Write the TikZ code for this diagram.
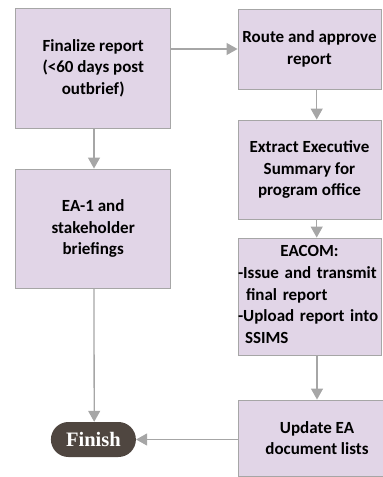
\documentclass[tikz,border=0pt]{standalone}
\usepackage{fontspec}
\setmainfont{Carlito}
\newfontfamily\finishfont{Liberation Serif}
\usetikzlibrary{arrows.meta,shapes.misc}
\definecolor{boxfill}{HTML}{E1D5E7}
\definecolor{boxline}{HTML}{A6A6A6}
\definecolor{arrowgray}{HTML}{A6A6A6}
\definecolor{finishfill}{HTML}{4F4640}
\begin{document}
\begin{tikzpicture}[x=1pt,y=-1pt,
  stepbox/.style={draw=boxline,line width=0.9pt,fill=boxfill,rectangle,inner sep=0pt,
    align=center,font=\fontsize{17}{21.4}\selectfont\bfseries},
  flow/.style={draw=arrowgray,line width=1.3pt,-{Triangle[length=11pt,width=12pt]}},
  endbox/.style={rounded rectangle,fill=finishfill,text=white,inner sep=0pt,
    minimum width=85pt,minimum height=35pt,font=\finishfont\fontsize{20.5}{24}\selectfont\bfseries}
]
\useasboundingbox (0,0) rectangle (383,477);
\node[stepbox,minimum width=155pt,minimum height=120pt] (fin) at (93.2,68.2)
  {Finalize report\\(<60 days post\\outbrief)};
\node[stepbox,minimum width=155pt,minimum height=119pt] (ea1) at (93.2,228.5)
  {EA-1 and\\stakeholder\\briefings};
\node[stepbox,minimum width=143pt,minimum height=80pt] (route) at (309.5,49)
  {Route and approve\\report};
\node[stepbox,minimum width=143pt,minimum height=99pt] (extr) at (309.5,169.5)
  {Extract Executive\\Summary for\\program office};
\node[stepbox,minimum width=143pt,minimum height=117pt] (eacom) at (309.5,296.5) {};
\node[font=\fontsize{17}{21.8}\selectfont\bfseries,align=left,text width=145pt,inner sep=0pt]
  (eacomtext) at (310.5,294.5)
  {\makebox[\linewidth][c]{\hspace*{-2pt}EACOM:}\\-Issue and transmit\\\hspace*{8pt}final report\\-Upload report into\\\hspace*{7pt}SSIMS};
\node[stepbox,minimum width=158pt,minimum height=76pt] (upd) at (317,438)
  {Update EA\\document lists};
\node[endbox] (finish) at (93.4,439.5) {Finish};
\draw[flow] (fin.east |- route.west) -- (route.west);
\draw[flow] ([xshift=7.2pt]route.south) -- ([xshift=7.2pt]extr.north);
\draw[flow] ([xshift=7.2pt]extr.south) -- ([xshift=7.2pt]eacom.north);
\draw[flow] (eacom.south -| upd.north) -- (upd.north);
\draw[flow] ([xshift=0.8pt]fin.south) -- ([xshift=0.8pt]ea1.north);
\draw[flow] ([xshift=0.8pt]ea1.south) -- ([xshift=0.8pt]finish.north);
\draw[flow] (upd.west |- finish.east) -- (finish.east);
\end{tikzpicture}
\end{document}
